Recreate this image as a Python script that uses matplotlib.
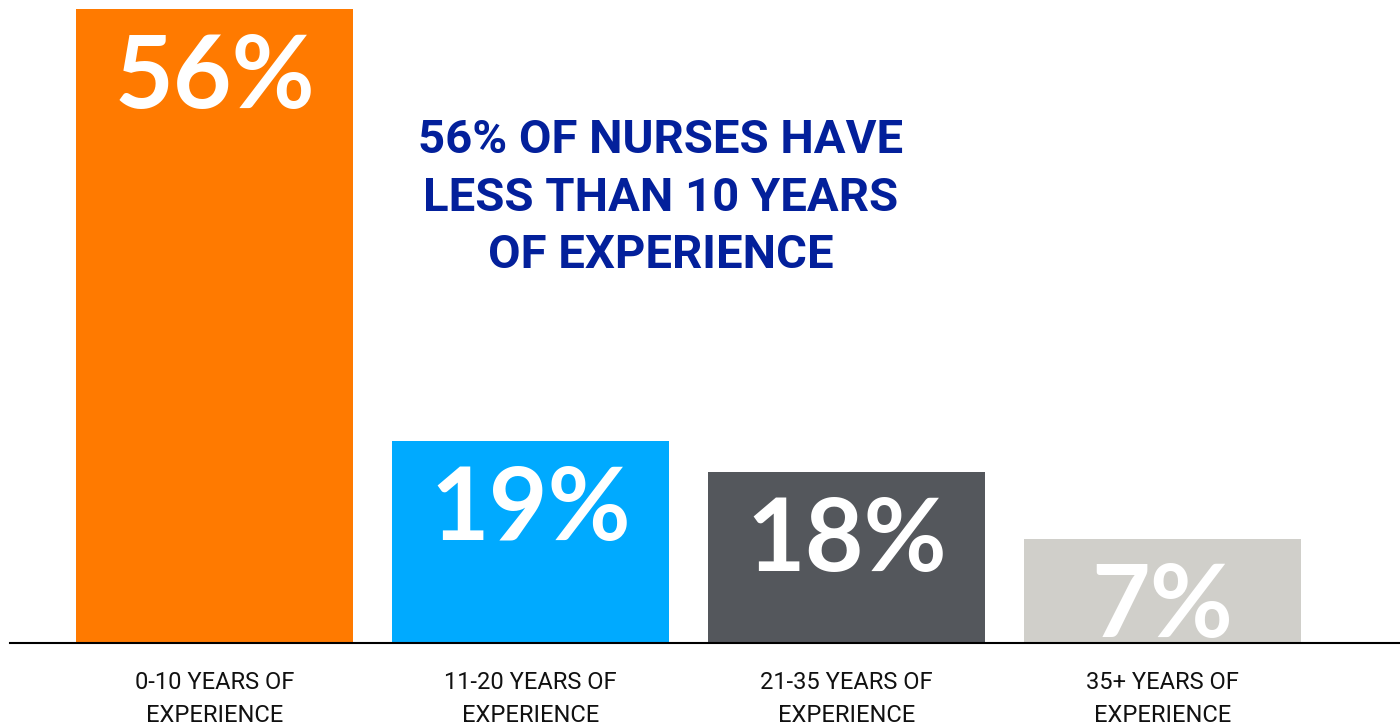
import matplotlib.pyplot as plt

categories = ['0-10 YEARS OF\nEXPERIENCE', '11-20 YEARS OF\nEXPERIENCE',
              '21-35 YEARS OF\nEXPERIENCE', '35+ YEARS OF\nEXPERIENCE']
shares = [56, 19, 18, 7]
# bar heights as drawn in the original (not strictly proportional to the labels)
bar_heights = [56, 17.8, 15.1, 9.2]
colors = ['#FF7A00', '#00AAFF', '#54575C', '#D0CFCA']
headline = ['56% OF NURSES HAVE', 'LESS THAN 10 YEARS', 'OF EXPERIENCE']

fig = plt.figure(figsize=(14, 7.28), dpi=100)
ax = fig.add_axes([10 / 1400, 85 / 728, 1390 / 1400, 643 / 728])

x = range(len(shares))
ax.bar(x, bar_heights, width=0.877, color=colors)
ax.set_xlim(-0.649, 3.753)
ax.set_ylim(0, 56 * 643 / 634)

for xi, h, s in zip(x, bar_heights, shares):
    ax.annotate(f'{s}%', (xi, h), xytext=(0, -71), textcoords='offset points',
                ha='center', va='baseline', color='white', fontsize=73,
                fontweight='bold', family=['Lato', 'DejaVu Sans'])

for sp in ['top', 'right', 'left']:
    ax.spines[sp].set_visible(False)
ax.spines['bottom'].set_color('black')
ax.spines['bottom'].set_linewidth(1.5)
ax.set_yticks([])
ax.set_xticks(list(x))
ax.set_xticklabels(categories, fontsize=17, family=['Roboto', 'DejaVu Sans'],
                   linespacing=1.55, color='#111111')
ax.tick_params(axis='x', length=0, pad=20)

ys = [153, 211, 268]
for line, y in zip(headline, ys):
    fig.text(661 / 1400, 1 - y / 728, line, ha='center', va='baseline',
             fontsize=34, fontweight='bold', color='#03209B',
             family=['Roboto', 'DejaVu Sans'])

fig.savefig('out.png', dpi=100)
